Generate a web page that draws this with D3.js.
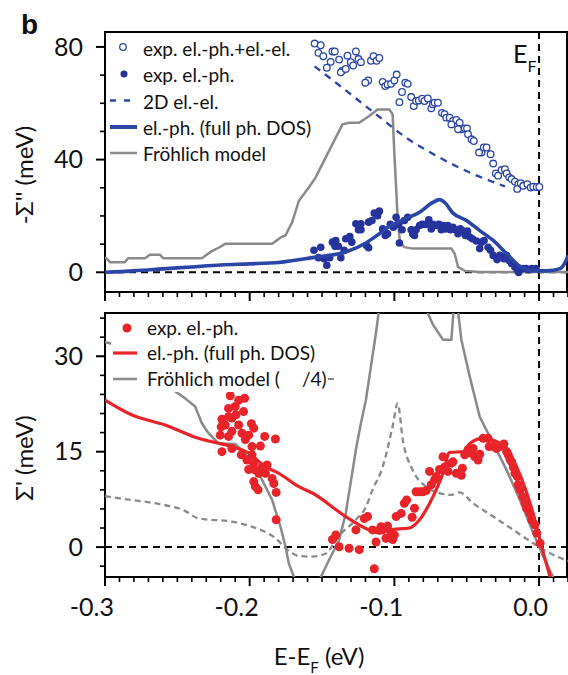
<!DOCTYPE html>
<html><head><meta charset="utf-8">
<script src="https://cdn.jsdelivr.net/npm/d3@7"></script>
<style>body{margin:0;background:#fff}svg{display:block}text{font-family:Lato,"Open Sans",sans-serif;fill:#111}</style>
</head><body><svg id="c" width="568" height="675"></svg>
<script>
// ---------- DATA ----------
const xTicks = [-0.3,-0.2,-0.1,0.0];
const xTickLabels = ["-0.3","-0.2","-0.1","0.0"];
const topTicks = [0,40,80];
const botTicks = [0,15,30];

// top panel: -Sigma'' (meV)
const expTotal = [[-0.1551,81.2],[-0.1509,80.6],[-0.1525,77.9],[-0.1491,76.7],[-0.1428,78.4],[-0.1412,78.4],[-0.1440,74.7],[-0.1467,72.6],[-0.1382,75.5],[-0.1324,76.9],[-0.1266,78.4],[-0.1301,74.6],[-0.1285,73.4],[-0.1248,75.7],[-0.1231,74.6],[-0.1359,71.6],[-0.1370,71.0],[-0.1336,72.2],[-0.1162,75.1],[-0.1144,76.7],[-0.1123,75.1],[-0.1104,76.1],[-0.1181,68.1],[-0.1201,67.3],[-0.1081,67.6],[-0.1063,66.1],[-0.1047,66.7],[-0.1023,66.9],[-0.1000,68.1],[-0.0984,70.2],[-0.0924,67.3],[-0.0908,66.9],[-0.0947,64.0],[-0.0965,60.4],[-0.0884,62.2],[-0.0866,59.0],[-0.0850,60.8],[-0.0831,61.0],[-0.0808,61.6],[-0.0792,60.8],[-0.0769,61.7],[-0.0745,58.2],[-0.0734,59.6],[-0.0722,60.2],[-0.0699,60.2],[-0.0671,56.6],[-0.0653,56.1],[-0.0641,54.9],[-0.0618,54.9],[-0.0595,53.7],[-0.0572,54.1],[-0.0606,52.5],[-0.0549,53.1],[-0.0537,50.8],[-0.0560,50.8],[-0.0514,51.1],[-0.0498,51.1],[-0.0491,49.0],[-0.0467,47.2],[-0.0451,46.6],[-0.0398,42.5],[-0.0415,42.5],[-0.0382,44.3],[-0.0363,44.3],[-0.0335,41.9],[-0.0317,38.6],[-0.0299,35.1],[-0.0283,34.3],[-0.0259,36.3],[-0.0236,36.6],[-0.0224,35.1],[-0.0206,33.7],[-0.0190,33.1],[-0.0167,32.2],[-0.0144,31.3],[-0.0151,29.6],[-0.0127,31.6],[-0.0109,30.7],[-0.0081,31.3],[-0.0058,30.1],[-0.0040,30.4],[-0.0016,30.3],[0.0002,30.3]];

const expElPh = [[-0.1556,7.8],[-0.1509,8.9],[-0.1525,5.2],[-0.1486,4.8],[-0.1467,2.5],[-0.1447,5.2],[-0.1428,10.7],[-0.1405,11.3],[-0.1410,9.2],[-0.1370,5.2],[-0.1387,9.2],[-0.1347,7.8],[-0.1336,11.9],[-0.1308,12.7],[-0.1294,10.7],[-0.1266,17.2],[-0.1248,15.1],[-0.1231,15.1],[-0.1231,17.2],[-0.1192,9.5],[-0.1178,8.7],[-0.1178,17.8],[-0.1155,18.4],[-0.1139,21.0],[-0.1116,20.1],[-0.1104,21.7],[-0.1081,15.4],[-0.1063,13.1],[-0.1047,13.7],[-0.1028,17.0],[-0.1007,16.0],[-0.0988,19.5],[-0.0970,17.0],[-0.0965,10.4],[-0.0947,15.1],[-0.0931,18.4],[-0.0908,19.5],[-0.0884,15.1],[-0.0873,13.7],[-0.0861,13.1],[-0.0850,15.1],[-0.0826,16.6],[-0.0808,17.0],[-0.0785,17.0],[-0.0762,18.6],[-0.0745,15.4],[-0.0734,17.0],[-0.0715,16.6],[-0.0692,17.0],[-0.0676,15.1],[-0.0664,16.6],[-0.0646,15.4],[-0.0630,16.6],[-0.0613,15.1],[-0.0595,16.0],[-0.0579,15.1],[-0.0560,13.7],[-0.0544,15.4],[-0.0525,14.6],[-0.0509,13.1],[-0.0495,14.6],[-0.0479,12.5],[-0.0461,11.9],[-0.0433,11.1],[-0.0410,8.4],[-0.0398,10.7],[-0.0380,11.3],[-0.0352,8.9],[-0.0335,7.8],[-0.0317,6.0],[-0.0290,4.5],[-0.0271,6.0],[-0.0243,4.8],[-0.0224,6.0],[-0.0206,4.2],[-0.0190,3.1],[-0.0167,1.9],[-0.0151,0.9],[-0.0137,1.3],[-0.0113,1.3],[-0.0090,1.3],[-0.0074,0.9],[-0.0051,1.3],[-0.0021,1.3],[-0.0141,-0.1]];

const elEl2D = [[-0.1551,73.1],[-0.1359,65.5],[-0.1127,56.1],[-0.0919,47.8],[-0.0687,40.7],[-0.0456,34.9],[-0.0236,30.5]];

const elPhTop = [[-0.3,0.0],[-0.28,0.5],[-0.26,1.2],[-0.24,1.9],[-0.22,2.6],[-0.2,3.0],[-0.18,3.5],[-0.1567,5.2],[-0.1336,7.2],[-0.1197,10.4],[-0.1104,13.7],[-0.1035,16.3],[-0.0942,18.6],[-0.0826,21.3],[-0.0734,24.8],[-0.0688,25.8],[-0.0653,24.8],[-0.0595,21.0],[-0.0502,18.4],[-0.0410,14.8],[-0.0317,11.3],[-0.0224,6.6],[-0.0132,2.1],[-0.0040,0.5],[0.0053,0.5],[0.0146,1.3],[0.0181,3.6],[0.0201,6.0]];

const frohlichTop = [[-0.3,5.4],[-0.2965,3.6],[-0.2863,3.6],[-0.284,5.0],[-0.2724,5.0],[-0.269,6.2],[-0.262,6.2],[-0.2597,5.0],[-0.2331,5.0],[-0.2262,7.5],[-0.2215,8.7],[-0.2169,10.1],[-0.1845,10.1],[-0.1787,12.3],[-0.1752,13.1],[-0.1706,17.8],[-0.166,25.4],[-0.159,30.2],[-0.1544,33.7],[-0.1498,38.4],[-0.1428,45.5],[-0.1359,52.5],[-0.1313,53.1],[-0.1243,53.1],[-0.1174,55.5],[-0.1116,57.8],[-0.1035,57.8],[-0.1012,56.1],[-0.1,41.9],[-0.0988,30.2],[-0.0977,18.4],[-0.0961,10.7],[-0.0931,8.9],[-0.0873,8.4],[-0.0606,8.4],[-0.0583,6.6],[-0.056,1.9],[-0.0514,0.5],[-0.041,0.1],[0.02,0.1]];

// bottom panel: Sigma' (meV)
const expReal = [[-0.2134,23.8],[-0.2076,23.1],[-0.2035,23.4],[-0.2100,22.1],[-0.2146,21.8],[-0.2042,21.3],[-0.2095,20.8],[-0.2146,20.5],[-0.2192,20.1],[-0.2123,20.3],[-0.2169,19.2],[-0.2197,18.9],[-0.2076,19.2],[-0.1988,19.4],[-0.2123,18.2],[-0.2053,17.9],[-0.1972,18.7],[-0.2204,17.6],[-0.2146,17.4],[-0.2007,17.6],[-0.2030,16.9],[-0.1896,17.4],[-0.1822,17.0],[-0.1984,15.8],[-0.1926,15.9],[-0.2192,15.0],[-0.2123,15.5],[-0.2058,14.5],[-0.1984,14.5],[-0.2019,13.7],[-0.1972,13.2],[-0.1915,12.6],[-0.1880,12.9],[-0.1960,12.1],[-0.2007,12.2],[-0.1938,11.6],[-0.1891,11.6],[-0.1845,10.8],[-0.1972,10.3],[-0.1960,9.5],[-0.1942,9.0],[-0.1833,10.0],[-0.1817,8.6],[-0.1817,4.3],
[-0.1428,1.2],[-0.1405,1.9],[-0.1382,0.05],[-0.1313,-0.2],[-0.1243,-0.4],[-0.1266,2.7],[-0.1208,4.5],[-0.1185,4.8],[-0.1127,0.8],[-0.1139,-3.4],[-0.1151,2.7],[-0.1104,2.7],[-0.1092,3.2],[-0.1081,2.7],[-0.1058,1.4],[-0.1047,3.3],[-0.1023,2.2],[-0.1012,1.2],[-0.1000,1.9],[-0.0988,4.8],[-0.0953,5.3],[-0.0931,6.9],[-0.0915,7.4],[-0.0877,4.7],[-0.0861,6.1],[-0.0850,8.7],[-0.0826,8.7],[-0.0803,8.7],[-0.0780,8.9],[-0.0757,11.9],[-0.0745,9.8],[-0.0722,10.6],[-0.0710,11.1],[-0.0688,12.2],[-0.0664,14.2],[-0.0653,12.6],[-0.0630,11.9],[-0.0606,13.2],[-0.0595,13.4],[-0.0572,11.6],[-0.0537,11.3],[-0.0530,12.4],[-0.0514,14.5],[-0.0491,15.3],[-0.0474,14.8],[-0.0456,15.5],[-0.0444,14.2],[-0.0422,13.7],[-0.0410,14.6],[-0.0387,17.1],[-0.0352,17.1],[-0.0345,15.8],[-0.0317,15.8],[-0.0294,15.5],[-0.0271,15.8],[-0.0243,16.2],[-0.0224,15.0],[-0.0213,14.5],[-0.0201,13.8],[-0.0190,13.4],[-0.0178,12.6],[-0.0167,11.6],[-0.0151,11.1],[-0.0144,9.8],[-0.0132,9.0],[-0.0113,7.9],[-0.0097,6.9],[-0.0086,6.1],[-0.0063,5.3],[-0.0051,4.3],[-0.0028,3.5],[-0.0016,2.2],[0.0007,0.6]];

const elPhReal = [[-0.3,23.1],[-0.2817,20.8],[-0.2585,19.2],[-0.2354,17.1],[-0.2123,15.8],[-0.2007,14.8],[-0.1891,12.6],[-0.1799,11.6],[-0.1660,9.5],[-0.1567,8.5],[-0.1336,4.8],[-0.1174,2.7],[-0.1104,2.2],[-0.1035,2.7],[-0.0896,3.0],[-0.0826,4.3],[-0.0734,7.9],[-0.0664,11.6],[-0.0618,14.9],[-0.0525,15.0],[-0.0479,16.3],[-0.0387,17.1],[-0.0294,16.6],[-0.0224,15.5],[-0.0155,12.6],[-0.0085,8.5],[-0.0016,3.2],[0.0030,-1.0],[0.0076,-4.7],[0.009,-6]];

const frohlichReal = [[-0.3,32.2],[-0.296,32.0],[-0.27,28],[-0.2528,24.7],[-0.2447,23.4],[-0.2377,22.1],[-0.2331,19.5],[-0.2285,17.9],[-0.2215,16.3],[-0.21,16.2],[-0.2042,15.0],[-0.1984,13.2],[-0.1915,10.6],[-0.1845,7.4],[-0.1787,3.2],[-0.1752,0.0],[-0.1729,-2.6],[-0.1694,-4.7],[-0.165,-6.5],[-0.155,-6.5],[-0.151,-4.8],[-0.1451,-2.0],[-0.1382,1.1],[-0.1336,5.3],[-0.1266,15.3],[-0.1231,19.5],[-0.1197,23.1],[-0.1162,28.4],[-0.1127,33.7],[-0.1109,36.8],[-0.105,42],[-0.08,42],[-0.0769,36.8],[-0.0734,35.0],[-0.0664,32.6],[-0.0606,32.6],[-0.0585,39],[-0.057,39],[-0.0537,32.6],[-0.0479,26.8],[-0.041,20.5],[-0.0317,16.3],[-0.0224,12.1],[-0.0132,7.4],[-0.004,2.2],[0.003,-1.5],[0.0099,-4.8],[0.012,-6]];

const frohlichQuarter = [[-0.3,8.0],[-0.2817,7.4],[-0.2632,6.8],[-0.2447,5.7],[-0.2354,4.5],[-0.2123,4.0],[-0.1984,3.2],[-0.1822,1.4],[-0.1729,-0.6],[-0.166,-1.4],[-0.1568,-1.5],[-0.1474,-1.0],[-0.1382,1.8],[-0.1266,4.3],[-0.1197,6.3],[-0.1151,9.0],[-0.1081,12.6],[-0.1012,19.0],[-0.0977,22.6],[-0.0942,16.9],[-0.0873,12.1],[-0.078,9.5],[-0.0688,8.5],[-0.0606,8.2],[-0.0549,8.6],[-0.0456,6.9],[-0.0317,4.8],[-0.0178,2.7],[-0.004,0.6],[0.0053,-0.7],[0.02,-2.2]];

const topLegend = ["exp. el.-ph.+el.-el.","exp. el.-ph.","2D el.-el.","el.-ph. (full ph. DOS)","Fröhlich model"];
const botLegend = ["exp. el.-ph.","el.-ph. (full ph. DOS)","Fröhlich model ("];

// ---------- DRAW ----------
const BLUE="#2a45a6", BLUED="#26339c", RED="#e8242a", GRAY="#8a8a8a";
const svg=d3.select("#c");
const L=105, R=568;
const x=d3.scaleLinear().domain([-0.3,0.02]).range([L,R]);
const yT=d3.scaleLinear().domain([-7,85.3]).range([292,32]);
const yB=d3.scaleLinear().domain([-4.7,36.8]).range([577,313]);

function clip(id,y0,y1){svg.append("clipPath").attr("id",id).append("rect").attr("x",L).attr("y",y0).attr("width",R-L).attr("height",y1-y0);}
clip("ct",32,292); clip("cb",313,577);

function frame(y,yTicksMaj,minStep,label,labelY){
  const [d0,d1]=y.domain(); const [r0,r1]=y.range();
  const g=svg.append("g");
  g.append("rect").attr("x",L).attr("y",r1).attr("width",R-1-L).attr("height",r0-r1).attr("fill","none").attr("stroke","#000").attr("stroke-width",2);
  const minorX=d3.range(-30,3).map(i=>i/100);
  minorX.forEach(v=>{const maj=xTicks.some(t=>Math.abs(t-v)<1e-9);
    g.append("line").attr("x1",x(v)).attr("x2",x(v)).attr("y1",r0).attr("y2",r0+(maj?9:5)).attr("stroke","#000").attr("stroke-width",maj?2:1.6);});
  const minorY=d3.range(Math.ceil(d0/minStep)*minStep,d1,minStep);
  minorY.forEach(v=>{const maj=yTicksMaj.includes(Math.round(v));
    g.append("line").attr("x1",L-(maj?9:5)).attr("x2",L).attr("y1",y(v)).attr("y2",y(v)).attr("stroke","#000").attr("stroke-width",maj?2:1.6);});
  yTicksMaj.forEach(v=>g.append("text").attr("x",83).attr("y",y(v)).attr("dy","0.35em").attr("text-anchor","end").style("font-size","25px").text(v));
  g.append("text").attr("transform",`translate(33,${labelY}) rotate(-90)`).attr("text-anchor","middle").style("font-size","24px").text(label);
  g.append("line").attr("x1",L).attr("x2",R).attr("y1",y(0)).attr("y2",y(0)).attr("stroke","#000").attr("stroke-width",2).attr("stroke-dasharray","7,5");
  g.append("line").attr("x1",x(0)).attr("x2",x(0)).attr("y1",r1).attr("y2",r0).attr("stroke","#000").attr("stroke-width",2).attr("stroke-dasharray","7,5");
}
frame(yT,topTicks,10,"-Σ'' (meV)",175);
frame(yB,botTicks,3,"Σ' (meV)",458);

const lineT=d3.line().x(d=>x(d[0])).y(d=>yT(d[1]));
const lineB=d3.line().x(d=>x(d[0])).y(d=>yB(d[1]));
const curveT=d3.line().x(d=>x(d[0])).y(d=>yT(d[1])).curve(d3.curveMonotoneX);
const curveB=d3.line().x(d=>x(d[0])).y(d=>yB(d[1])).curve(d3.curveMonotoneX);

// top panel data
const gt=svg.append("g").attr("clip-path","url(#ct)");
gt.append("path").attr("d",lineT(frohlichTop)).attr("fill","none").attr("stroke",GRAY).attr("stroke-width",2.5);
gt.append("path").attr("d",curveT(elEl2D)).attr("fill","none").attr("stroke",BLUE).attr("stroke-width",2.3).attr("stroke-dasharray","7,6");
gt.selectAll(".oc").data(expTotal).join("circle").attr("cx",d=>x(d[0])).attr("cy",d=>yT(d[1])).attr("r",3.3).attr("fill","#fff").attr("stroke",BLUE).attr("stroke-width",1.3);
gt.selectAll(".fc").data(expElPh).join("circle").attr("cx",d=>x(d[0])).attr("cy",d=>yT(d[1])).attr("r",3.8).attr("fill",BLUED);
gt.append("path").attr("d",curveT(elPhTop)).attr("fill","none").attr("stroke",BLUE).attr("stroke-width",3.6);

// bottom panel data
const gb=svg.append("g").attr("clip-path","url(#cb)");
gb.append("path").attr("d",lineB(frohlichReal)).attr("fill","none").attr("stroke",GRAY).attr("stroke-width",2.5);
gb.append("path").attr("d",curveB(frohlichQuarter)).attr("fill","none").attr("stroke",GRAY).attr("stroke-width",2.3).attr("stroke-dasharray","6,4");
gb.selectAll(".rc").data(expReal).join("circle").attr("cx",d=>x(d[0])).attr("cy",d=>yB(d[1])).attr("r",4.5).attr("fill",RED);
gb.append("path").attr("d",curveB(elPhReal)).attr("fill","none").attr("stroke",RED).attr("stroke-width",3.2);

// top legend
const LF="19px";
const lt=svg.append("g");
const ty=[56,82,108.5,135,161];
topLegend.forEach((t,i)=>lt.append("text").attr("x",143).attr("y",ty[i]).style("font-size",LF).text(t));
lt.append("circle").attr("cx",123).attr("cy",ty[0]-9).attr("r",3.3).attr("fill","#fff").attr("stroke",BLUE).attr("stroke-width",1.3);
lt.append("circle").attr("cx",124).attr("cy",ty[1]-8).attr("r",3.5).attr("fill",BLUED);
lt.append("line").attr("x1",110).attr("x2",137).attr("y1",ty[2]-8).attr("y2",ty[2]-8).attr("stroke",BLUE).attr("stroke-width",2.3).attr("stroke-dasharray","6,8");
lt.append("line").attr("x1",110).attr("x2",137).attr("y1",ty[3]-8).attr("y2",ty[3]-8).attr("stroke",BLUE).attr("stroke-width",4);
lt.append("line").attr("x1",110).attr("x2",137).attr("y1",ty[4]-8).attr("y2",ty[4]-8).attr("stroke",GRAY).attr("stroke-width",2.5);

// bottom legend
const lb=svg.append("g");
lb.append("rect").attr("x",111).attr("y",315).attr("width",222).attr("height",77).attr("fill","#fff");
const by=[335,360,386];
botLegend.forEach((t,i)=>lb.append("text").attr("x",147).attr("y",by[i]).style("font-size",LF).text(t));
lb.append("text").attr("x",302).attr("y",by[2]).style("font-size",LF).text("/4)");
lb.append("circle").attr("cx",127).attr("cy",by[0]-7).attr("r",4.5).attr("fill",RED);
lb.append("line").attr("x1",113).attr("x2",137).attr("y1",by[1]-7).attr("y2",by[1]-7).attr("stroke",RED).attr("stroke-width",3.2);
lb.append("line").attr("x1",113).attr("x2",137).attr("y1",by[2]-7).attr("y2",by[2]-7).attr("stroke",GRAY).attr("stroke-width",2.5);
lb.append("line").attr("x1",328).attr("x2",334).attr("y1",by[2]-7).attr("y2",by[2]-7).attr("stroke",GRAY).attr("stroke-width",2);

// x tick labels and axis title
xTicks.forEach((v,i)=>svg.append("text").attr("x",x(v)+9).attr("y",616).attr("text-anchor","end").style("font-size","25px").text(xTickLabels[i]));
const xt=svg.append("text").attr("x",319).attr("y",665).attr("text-anchor","middle").style("font-size","24px");
xt.append("tspan").text("E-E");
xt.append("tspan").attr("dy",8).style("font-size","15px").text("F");
xt.append("tspan").attr("dy",-8).text(" (eV)");

// E_F label
const ef=svg.append("text").attr("x",513).attr("y",63).style("font-size","25px");
ef.append("tspan").text("E");
ef.append("tspan").attr("dy",9).style("font-size","16px").text("F");

// panel letter
svg.append("text").attr("x",21).attr("y",34).style("font-family","'Liberation Sans',Arial,sans-serif").style("font-weight","bold").style("font-size","28px").text("b");
</script></body></html>
